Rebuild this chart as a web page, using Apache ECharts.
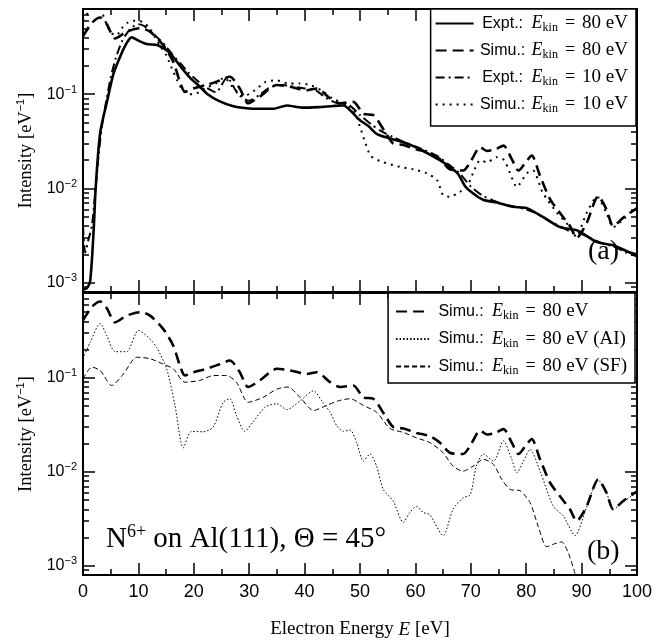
<!DOCTYPE html>
<html>
<head>
<meta charset="utf-8">
<script src="https://cdn.jsdelivr.net/npm/echarts@6/dist/echarts.min.js"></script>
<style>
  html, body { margin: 0; padding: 0; background: #fff; }
  #chart { width: 672px; height: 640px; }
</style>
</head>
<body>
<div id="chart"></div>
<script>
// ---- Panel (a): experimental and simulated spectra ----
const expt80E = [0,0.7,1.3,1.9,2.3,3.1,4.4,5.5,6.7,7.9,8.8,10,11.5,13.5,15.5,17.5,19.3,21.1,22.5,24.5,27,29.5,32,34.3,36.8,39.5,42.5,45.2,47,48.5,50,51.5,53,55.4,58.5,61.4,64.4,66.5,67.8,69,70.5,72.2,74.7,77.6,80.1,83,86.1,89.2,92.8,95.7,98.7,100];
const expt80I = [0.00085,0.00088,0.00105,0.0034,0.0104,0.039,0.087,0.165,0.25,0.35,0.40,0.37,0.34,0.33,0.28,0.2,0.15,0.12,0.1,0.085,0.075,0.071,0.07,0.07,0.076,0.072,0.073,0.075,0.076,0.065,0.053,0.046,0.038,0.034,0.030,0.025,0.020,0.0165,0.014,0.0105,0.0088,0.0076,0.0071,0.0064,0.0062,0.005,0.0039,0.0036,0.0027,0.0025,0.0021,0.002];

const expt10E = [0,0.4,1,1.6,2.2,2.8,3.4,4,5,6,7,8,9,10,11,12,13,14,15,16,17,18,19,20,22,24,26,28,30,32,34,36,38,40,42,44,46,48,50,52,54,56,58,60,62,64,66,68,70,72,74,76,78,80,82,84,86,88,90,92,94,96,98,100];
const expt10I = [0.004,0.0021,0.0029,0.004,0.009,0.022,0.045,0.073,0.15,0.25,0.36,0.45,0.52,0.55,0.53,0.48,0.42,0.37,0.32,0.27,0.23,0.2,0.17,0.15,0.12,0.105,0.15,0.1,0.085,0.1,0.12,0.125,0.12,0.115,0.11,0.09,0.08,0.077,0.06,0.048,0.04,0.035,0.031,0.028,0.025,0.022,0.018,0.0145,0.0105,0.0085,0.0075,0.0068,0.0064,0.006,0.0054,0.0046,0.004,0.0035,0.0033,0.0029,0.0026,0.0024,0.0021,0.0019];

const simu10E = [0,1,2,3,4,5,6,7,8,9,10,11,12,13,14,15,16,17,18,19,20,22,24,25.5,27,29,31,33,35,37,39,41,43,45,47,49,50,51,52,54.2,57.2,59.6,62,63.9,65,66.2,68,69.3,70.4,71.7,72.9,74.7,76,77.1,78.3,80.1,81.2,83,85.6,87.9,89,90.9,92.8,94.5,95.7,97.5,99.3,100];
const simu10I = [0.6,0.75,0.9,0.85,0.6,0.45,0.42,0.5,0.57,0.6,0.6,0.57,0.5,0.4,0.32,0.26,0.19,0.14,0.11,0.1,0.1,0.115,0.13,0.15,0.12,0.095,0.11,0.135,0.14,0.13,0.13,0.125,0.11,0.09,0.08,0.065,0.045,0.03,0.022,0.019,0.017,0.016,0.0145,0.0123,0.0085,0.0082,0.0092,0.0104,0.0145,0.02,0.019,0.0215,0.02,0.0145,0.0104,0.0145,0.0156,0.009,0.0055,0.0039,0.0031,0.0055,0.0082,0.0055,0.0039,0.0047,0.0059,0.006];

// ---- Simulation at 80 eV (both panels) and its AI / SF contributions ----
const simu80E = [0,1.6,3.1,4.3,5.8,7.9,10.3,12.1,14.5,16.3,17.5,18.4,19.9,22.3,24.7,26.5,28.3,29.8,31.9,35,37.4,40.4,42.2,44.6,46.4,48.8,50.6,52.4,54.5,56,57.8,60.2,62.6,64.4,66.2,68.6,69.9,71.7,72.9,74.4,75.9,77.4,78.6,80.1,81,82.5,84.3,86.1,87.9,89.1,90.9,93,94.5,95.7,97.5,100];
const simu80I = [0.41,0.57,0.65,0.55,0.39,0.46,0.50,0.46,0.33,0.22,0.135,0.106,0.115,0.125,0.14,0.153,0.115,0.080,0.094,0.125,0.12,0.11,0.115,0.09,0.080,0.083,0.062,0.060,0.040,0.030,0.029,0.026,0.024,0.0205,0.016,0.0155,0.019,0.0275,0.025,0.026,0.0285,0.0205,0.0155,0.0197,0.0224,0.0136,0.0077,0.0055,0.0040,0.0030,0.0043,0.0083,0.006,0.004,0.0049,0.0062];

const simuAIE = [0,1.3,3.1,4.3,5.8,7.9,10,11.8,13.3,15.1,16.6,18.1,19.6,21.7,23.5,25.3,26.5,27.7,29.2,30.7,32.9,35,36.8,39.2,41.6,43.1,44.6,45.8,47,48.2,49.4,50.6,51.8,53,54.2,56,57.8,59,60.2,61.4,62.6,65,66.8,68.6,69.9,71,72.3,74.1,75.9,77.4,78.3,79.5,80.7,82.5,84.9,86.7,88.8,90.9,93,94.5,95.7,97.5,100];
const simuAII = [0.16,0.24,0.38,0.28,0.19,0.19,0.32,0.27,0.21,0.125,0.051,0.018,0.027,0.0267,0.030,0.055,0.060,0.040,0.027,0.034,0.049,0.053,0.046,0.057,0.073,0.057,0.043,0.031,0.027,0.028,0.0205,0.013,0.0155,0.0115,0.0065,0.0049,0.0029,0.0037,0.0043,0.0037,0.0035,0.0021,0.004,0.0053,0.0057,0.0115,0.0155,0.013,0.0214,0.0136,0.0098,0.013,0.0174,0.0102,0.0043,0.0034,0.0021,0.0042,0.0082,0.006,0.004,0.0048,0.0061];

const simuSFE = [0,1.6,3.1,5.2,7.3,9.7,12.1,14.5,16.3,18.4,21.1,23.5,25.9,27.7,29.8,32.5,35,37,39.2,41.6,44,46.1,48.2,50.6,53,55.4,57.8,60.2,62.6,65,66.8,68.6,70.4,72.3,74.1,75.6,77.1,78.9,80.7,82.2,83.7,84.9,86.4,87.6,88.8,89.6];
const simuSFI = [0.098,0.13,0.12,0.083,0.11,0.166,0.16,0.14,0.125,0.09,0.094,0.106,0.106,0.09,0.055,0.062,0.076,0.080,0.062,0.045,0.051,0.057,0.060,0.051,0.043,0.029,0.0263,0.023,0.0205,0.016,0.0115,0.0102,0.0115,0.0136,0.012,0.0083,0.0065,0.0063,0.0047,0.0026,0.0016,0.0017,0.0018,0.00137,0.00083,0.0005];

// Axis settings
const yMin = 0.0008, yMax = 0.8;
const yMajor = [1e-3, 1e-2, 1e-1];
const yMinor = [9e-4, 2e-3,3e-3,4e-3,5e-3,6e-3,7e-3,8e-3,9e-3, 2e-2,3e-2,4e-2,5e-2,6e-2,7e-2,8e-2,9e-2, 2e-1,3e-1,4e-1,5e-1,6e-1,7e-1];

const SANS = '"Liberation Sans", Arial, sans-serif';
const SERIF = '"Liberation Serif", "Times New Roman", serif';
const INK = '#000';
const lg = Math.log10;

const pairs = (xs, ys) => xs.map((x, i) => [x, ys[i]]);

function xAxes(g) {
  const base = {
    gridIndex: g, type: 'value', min: 0, max: 100, interval: 10,
    axisLine: { lineStyle: { color: INK, width: 1.8 } },
    axisTick: { inside: true, length: 12, lineStyle: { color: INK, width: 1.5 } },
    minorTick: { show: true, splitNumber: 2, length: 6, lineStyle: { color: INK, width: 1.5 } },
    splitLine: { show: false }
  };
  const bottom = Object.assign({}, base, {
    position: 'bottom',
    axisLabel: { show: g === 1, margin: 8, color: INK, fontFamily: SANS, fontSize: 18 }
  });
  if (g === 1) {
    Object.assign(bottom, {
      name: '{t|Electron Energy }{i|E}{t| [eV]}',
      nameLocation: 'middle', nameGap: 45,
      nameTextStyle: { rich: {
        t: { fontFamily: SERIF, fontSize: 19, color: INK },
        i: { fontFamily: SERIF, fontSize: 19, fontStyle: 'italic', color: INK }
      } }
    });
  }
  const top = Object.assign({}, base, { position: 'top', axisLabel: { show: false } });
  return [bottom, top];
}

function yAxes(g) {
  // logarithmic data axis (drawn by the tick axes below)
  const data = { gridIndex: g, type: 'log', logBase: 10, min: yMin, max: yMax, show: false };
  const span = { min: lg(yMin), max: lg(yMax) };
  // tick axes laid out on the log10 scale of the data axis
  const deco = (pos, vals, len, extra) => Object.assign({
    gridIndex: g, type: 'value', position: pos,
    axisLine: { show: true, lineStyle: { color: INK, width: 1.8 } },
    axisTick: { inside: true, length: len, customValues: vals.map(lg), lineStyle: { color: INK, width: 1.5 } },
    axisLabel: { show: false }, splitLine: { show: false }
  }, span, extra || {});
  const labelled = deco('left', yMajor, 12, {
    axisLabel: {
      show: true, margin: 6, color: INK,
      customValues: yMajor.map(lg),
      formatter: v => '{b|10}{s|−' + Math.round(-v) + '}',
      rich: {
        b: { fontFamily: SANS, fontSize: 16, color: INK },
        s: { fontFamily: SANS, fontSize: 11, color: INK, padding: [0, 0, 9, 0] }
      }
    },
    name: '{t|Intensity [eV}{s|−1}{t|]}',
    nameLocation: 'middle', nameGap: 43, nameRotate: 90,
    nameTextStyle: { rich: {
      t: { fontFamily: SERIF, fontSize: 18.5, color: INK },
      s: { fontFamily: SANS, fontSize: 11, color: INK, padding: [0, 0, 10, 0] }
    } }
  });
  return [data, labelled,
    deco('left', yMinor, 6),
    deco('right', yMajor, 12),
    deco('right', yMinor, 6)];
}

function legendRich(prefixWidth) {
  return {
    p: { fontFamily: SANS, fontSize: 16, color: INK, width: prefixWidth, align: 'right', lineHeight: 20 },
    e: { fontFamily: SERIF, fontSize: 18, fontStyle: 'italic', color: INK, padding: [0, 0, 0, 5], lineHeight: 20 },
    k: { fontFamily: SERIF, fontSize: 12, color: INK, padding: [9, 0, 0, 0] },
    q: { fontFamily: SERIF, fontSize: 18, color: INK, padding: [0, 7, 0, 7], lineHeight: 20 },
    v: { fontFamily: SERIF, fontSize: 19, color: INK, lineHeight: 20 }
  };
}
const legendFmt = name => {
  const i = name.indexOf(': ');
  return '{p|' + name.slice(0, i + 1) + '}{e|E}{k|kin}{q|=}{v|' + name.slice(i + 2) + '}';
};

const N_E80 = 'Expt.: 80 eV', N_S80 = 'Simu.: 80 eV', N_E10 = 'Expt.: 10 eV', N_S10 = 'Simu.: 10 eV';
const N_AI = 'Simu.: 80 eV (AI)', N_SF = 'Simu.: 80 eV (SF)';

function line(name, xi, yi, data, width, dash) {
  return {
    name, type: 'line', xAxisIndex: xi, yAxisIndex: yi, data,
    showSymbol: false, symbol: 'none', smooth: 0.25, animation: false,
    lineStyle: { color: INK, width, type: dash },
    itemStyle: { color: INK, opacity: 0 },
    z: 3
  };
}

const legendBase = {
  orient: 'vertical', itemHeight: 14,
  backgroundColor: '#fff', borderColor: INK, borderWidth: 1.5,
  itemStyle: { opacity: 0 },
  formatter: legendFmt, selectedMode: false
};

const option = {
  animation: false,
  backgroundColor: '#fff',
  grid: [
    { left: 83, top: 9, width: 554, height: 283 },
    { left: 83, top: 293, width: 554, height: 284 }
  ],
  xAxis: [...xAxes(0), ...xAxes(1)],
  yAxis: [...yAxes(0), ...yAxes(1)],
  legend: [
    Object.assign({}, legendBase, {
      data: [N_E80, N_S80, N_E10, N_S10],
      right: 36, top: 9, padding: [5, 8, 11, 4], itemGap: 7, itemWidth: 38,
      textStyle: { rich: legendRich(48) }
    }),
    Object.assign({}, legendBase, {
      data: [N_S80, N_AI, N_SF],
      right: 37, top: 293, padding: [9, 8, 6, 7], itemGap: 7.5, itemWidth: 34,
      textStyle: { rich: legendRich(52) }
    })
  ],
  series: [
    line(N_E80, 0, 0, pairs(expt80E, expt80I), 2.6, 'solid'),
    line(N_S80, 0, 0, pairs(simu80E, simu80I), 2.6, [11, 6]),
    line(N_E10, 0, 0, pairs(expt10E, expt10I), 2, [9, 4, 2, 4]),
    line(N_S10, 0, 0, pairs(simu10E, simu10I), 2, [2, 5]),
    line(N_S80, 2, 5, pairs(simu80E, simu80I), 2.6, [11, 6]),
    line(N_AI, 2, 5, pairs(simuAIE, simuAII), 1, [1.5, 2]),
    line(N_SF, 2, 5, pairs(simuSFE, simuSFI), 1, [5, 3])
  ],
  graphic: [
    { type: 'text', left: 588, top: 238, style: { text: '(a)', font: '28px ' + SERIF, fill: INK } },
    { type: 'text', left: 587, top: 538, style: { text: '(b)', font: '28px ' + SERIF, fill: INK } },
    {
      type: 'text', left: 106, top: 523,
      style: {
        text: '{b|N}{s|6+}{b| on Al(111), Θ = 45°}',
        rich: {
          b: { fontFamily: SERIF, fontSize: 29, fill: INK },
          s: { fontFamily: SERIF, fontSize: 18, fill: INK, padding: [0, 0, 14, 0] }
        }
      }
    }
  ]
};

const chart = echarts.init(document.getElementById('chart'), null, { renderer: 'canvas' });
chart.setOption(option);
</script>
</body>
</html>
